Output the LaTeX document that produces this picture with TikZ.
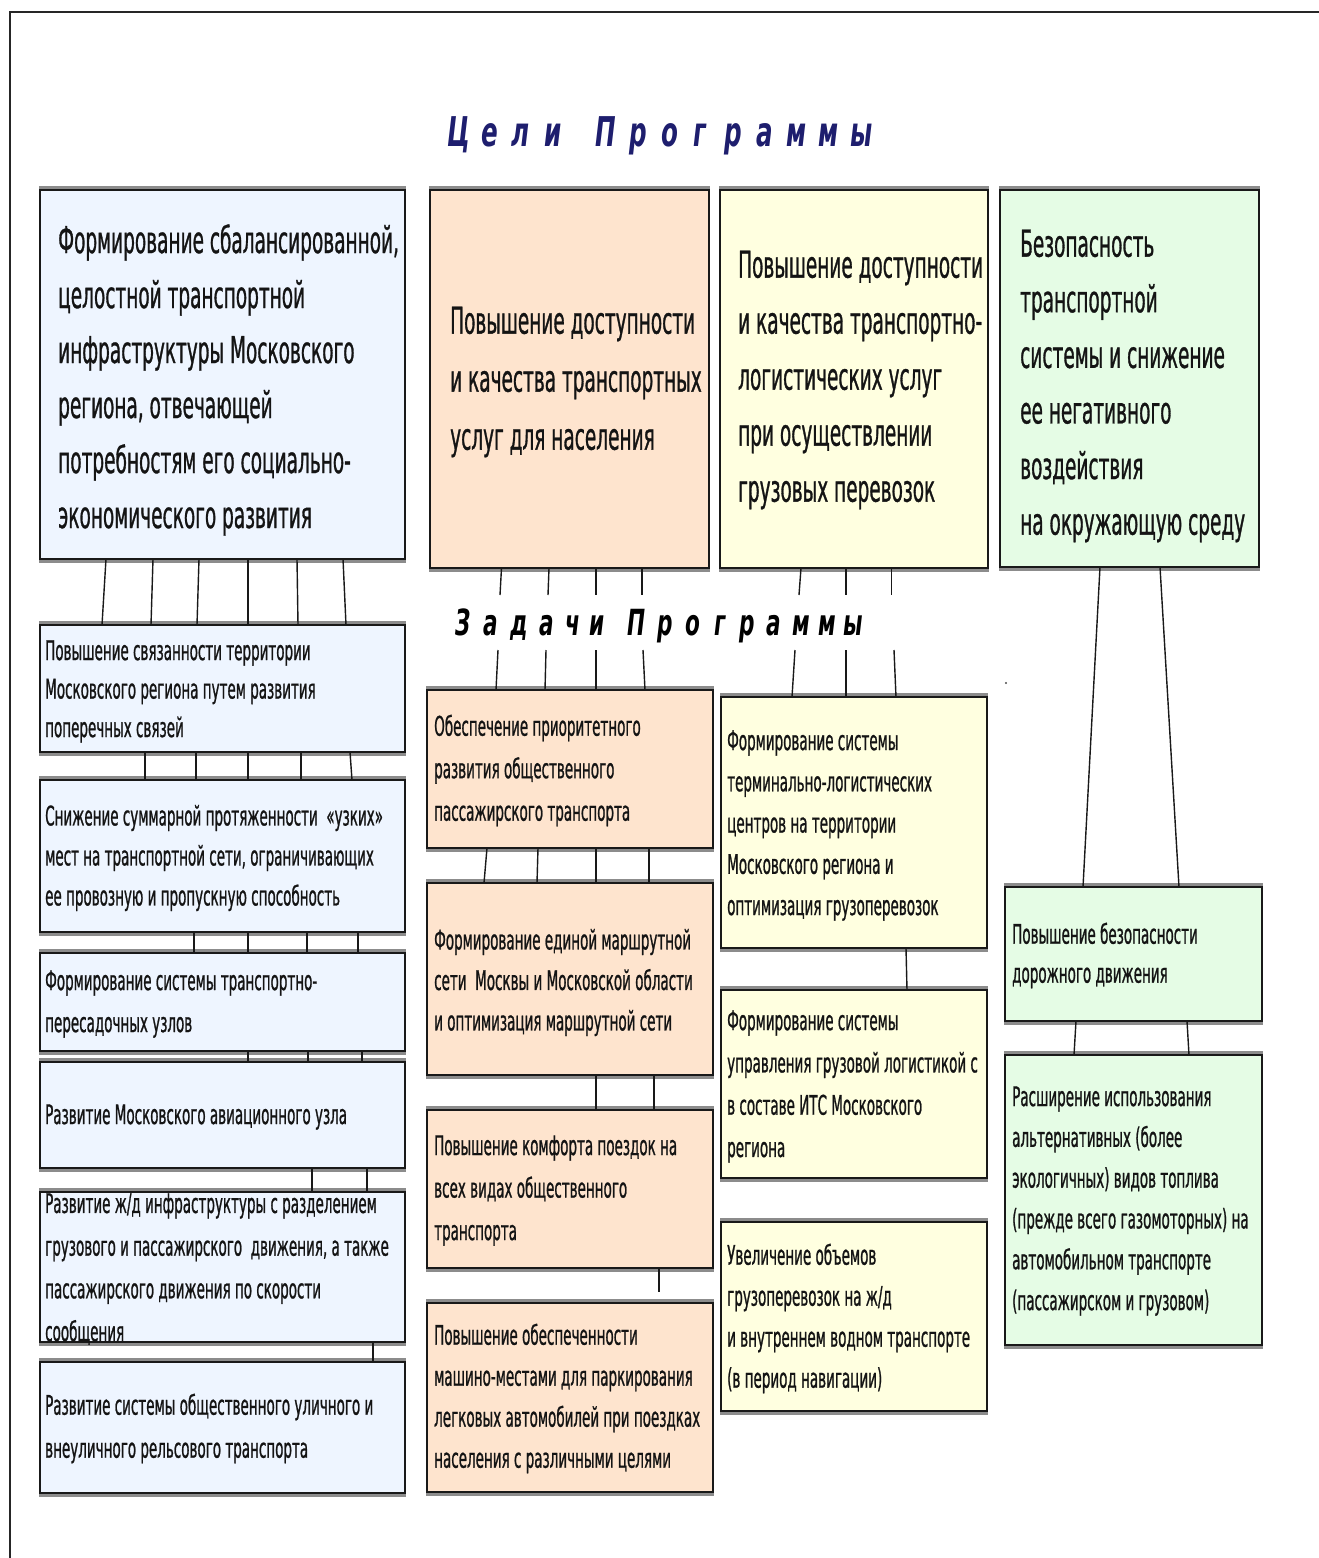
\documentclass[tikz,border=0pt]{standalone}
\usepackage{fontspec}
\setmainfont[FakeStretch=0.5,FakeBold=0.8]{DejaVu Sans}
\newfontfamily\ttlfont[FakeStretch=0.6]{DejaVu Sans}
\definecolor{cblue}{RGB}{238,245,255}
\definecolor{cpeach}{RGB}{254,228,206}
\definecolor{cyell}{RGB}{255,255,224}
\definecolor{cgreen}{RGB}{229,252,229}
\definecolor{cnavy}{RGB}{30,30,110}
\definecolor{ctxt}{RGB}{20,20,20}
\newcommand\bx[6]{%
  \fill[shd] (#3-1,#4-4) rectangle (#5+1,#6+4);
  \node[#2, anchor=north west, minimum width=#5-#3, minimum height=#6-#4] (#1) at (#3,#4) {};
}
\begin{document}
\begin{tikzpicture}[x=1pt,y=-1pt,
  shd/.style={black!45},
  boxbase/.style={draw=black!90, line width=1.6pt, rectangle, inner sep=0pt, outer sep=0pt},
  bluebox/.style={boxbase, fill=cblue},
  peachbox/.style={boxbase, fill=cpeach},
  yellbox/.style={boxbase, fill=cyell},
  greenbox/.style={boxbase, fill=cgreen},
  bigtxt/.style={font=\fontsize{37}{#1}\selectfont, align=left, anchor=west, inner sep=0pt, text=ctxt},
  smtxt/.style={font=\fontsize{27}{#1}\selectfont, align=left, anchor=west, inner sep=0pt, text=ctxt},
  ttl/.style={font=\ttlfont\bfseries\itshape\fontsize{41}{41}\selectfont, inner sep=0pt, text=cnavy},
  ttlb/.style={font=\ttlfont\bfseries\itshape\fontsize{36}{36}\selectfont, inner sep=0pt, text=black},
  conn/.style={draw=black!90, line width=1.4pt}
]
\useasboundingbox (0,0) rectangle (1318,1558);
% outer frame
\draw[line width=2pt, black!85] (10,1560) -- (10,12) -- (1320,12);

% titles
\foreach \ch/\xx [count=\i] in {Ц/459,е/490,л/521,и/553,П/606,р/638,о/670,г/700,р/733,а/765,м/797,м/829,ы/862}
  \node[ttl, anchor=base] (tc\i) at (\xx,146) {\ch};
\foreach \ch/\xx [count=\i] in {З/463,а/491,д/519,а/547,ч/573,и/597,П/637,р/665,о/693,г/720,р/747,а/774,м/801,м/827,ы/853}
  \node[ttlb, anchor=base] (tz\i) at (\xx,635) {\ch};

% goal boxes
\bx{g1}{bluebox}{40}{190}{405}{559}
\bx{g2}{peachbox}{430}{190}{709}{568}
\bx{g3}{yellbox}{720}{190}{988}{568}
\bx{g4}{greenbox}{1000}{190}{1259}{567}

% left column tasks
\bx{t1}{bluebox}{40}{625}{405}{752}
\bx{t2}{bluebox}{40}{780}{405}{932}
\bx{t3}{bluebox}{40}{953}{405}{1051}
\bx{t4}{bluebox}{40}{1062}{405}{1168}
\bx{t5}{bluebox}{40}{1192}{405}{1342}
\bx{t6}{bluebox}{40}{1362}{405}{1493}

% middle column tasks
\bx{m1}{peachbox}{427}{690}{713}{848}
\bx{m2}{peachbox}{427}{883}{713}{1075}
\bx{m3}{peachbox}{427}{1110}{713}{1268}
\bx{m4}{peachbox}{427}{1303}{713}{1492}

% right-middle column tasks
\bx{r1}{yellbox}{721}{697}{987}{948}
\bx{r2}{yellbox}{721}{990}{987}{1178}
\bx{r3}{yellbox}{721}{1222}{987}{1411}

% right column tasks
\bx{s1}{greenbox}{1005}{887}{1262}{1021}
\bx{s2}{greenbox}{1005}{1055}{1262}{1345}

% texts
\node[bigtxt=55] (g1t) at (58,380) {Формирование сбалансированной,\\целостной транспортной\\инфраструктуры Московского\\региона, отвечающей\\потребностям его социально-\\экономического развития};
\node[bigtxt=58] (g2t) at (450,382) {Повышение доступности\\и качества транспортных\\услуг для населения};
\node[bigtxt=56] (g3t) at (738,380) {Повышение доступности\\и качества транспортно-\\логистических услуг\\при осуществлении\\грузовых перевозок};
\node[bigtxt=55.6] (g4t) at (1020,386) {Безопасность\\транспортной\\системы и снижение\\ее негативного\\воздействия\\на окружающую среду};

\node[smtxt=38.5] (t1t) at (45,691.5) {Повышение связанности территории\\Московского региона путем развития\\поперечных связей};
\node[smtxt=40] (t2t) at (45,858) {Снижение суммарной протяженности\ \ «узких»\\мест на транспортной сети, ограничивающих\\ее провозную и пропускную способность};
\node[smtxt=42] (t3t) at (45,1004) {Формирование системы транспортно-\\пересадочных узлов};
\node[smtxt=42] (t4t) at (45,1117) {Развитие Московского авиационного узла};
\node[smtxt=42.7] (t5t) at (45,1269) {Развитие ж/д инфраструктуры с разделением\\грузового и пассажирского\ \ движения, а также\\пассажирского движения по скорости\\сообщения};
\node[smtxt=43] (t6t) at (45,1428.5) {Развитие системы общественного уличного и\\внеуличного рельсового транспорта};

\node[smtxt=42.5] (m1t) at (434,770.5) {Обеспечение приоритетного\\развития общественного\\пассажирского транспорта};
\node[smtxt=40.5] (m2t) at (434,982.5) {Формирование единой маршрутной\\сети\ \ Москвы и Московской области\\и оптимизация маршрутной сети};
\node[smtxt=42.5] (m3t) at (434,1190.5) {Повышение комфорта поездок на\\всех видах общественного\\транспорта};
\node[smtxt=41] (m4t) at (434,1398.5) {Повышение обеспеченности\\машино-местами для паркирования\\легковых автомобилей при поездках\\населения с различными целями};

\node[smtxt=41.25] (r1t) at (727,825.5) {Формирование системы\\терминально-логистических\\центров на территории\\Московского региона и\\оптимизация грузоперевозок};
\node[smtxt=42.3] (r2t) at (727,1086.5) {Формирование системы\\управления грузовой логистикой с\\в составе ИТС Московского\\региона};
\node[smtxt=41] (r3t) at (727,1318.5) {Увеличение объемов\\грузоперевозок на ж/д\\и внутреннем водном транспорте\\(в период навигации)};

\node[smtxt=39] (s1t) at (1012,955.5) {Повышение безопасности\\дорожного движения};
\node[smtxt=40.8] (s2t) at (1012,1201) {Расширение использования\\альтернативных (более\\экологичных) видов топлива\\(прежде всего газомоторных) на\\автомобильном транспорте\\(пассажирском и грузовом)};

% connectors: goal 1 -> task chain
\foreach \a/\b in {66/62,113/111,159/157,208/208,257/258,303/306}
  \draw[conn] ([xshift=\a]g1.south west) -- ([xshift=\b]t1.north west);
\foreach \a/\b in {105/105,156/156,208/208,261/261,310/312}
  \draw[conn] ([xshift=\a]t1.south west) -- ([xshift=\b]t2.north west);
\foreach \a in {154,208,267,318}
  \draw[conn] ([xshift=\a]t2.south west) -- ([xshift=\a]t3.north west);
\foreach \a in {208,268,322}
  \draw[conn] ([xshift=\a]t3.south west) -- ([xshift=\a]t4.north west);
\foreach \a in {272,327}
  \draw[conn] ([xshift=\a]t4.south west) -- ([xshift=\a]t5.north west);
\draw[conn] ([xshift=333]t5.south west) -- ([xshift=333]t6.north west);

% goal 2 stubs and middle chain
\foreach \a/\d in {71.5/-1.5,119/-1,166/0,212/0}
  \draw[conn] ([xshift=\a]g2.south west) -- ++(\d,27);
\foreach \a/\d in {69/2,118/1,169/0,218/-2}
  \draw[conn] ([xshift=\a]m1.north west) -- ++(\d,-40);
\foreach \a/\b in {60/57,111/110,169/169,222/222}
  \draw[conn] ([xshift=\a]m1.south west) -- ([xshift=\b]m2.north west);
\foreach \a in {169,227}
  \draw[conn] ([xshift=\a]m2.south west) -- ([xshift=\a]m3.north west);
\draw[conn] ([xshift=232]m3.south west) -- ++(0,24);

% goal 3 stubs and right-middle chain
\foreach \a/\d in {81/-2,126/0,171.5/0}
  \draw[conn] ([xshift=\a]g3.south west) -- ++(\d,27);
\foreach \a/\d in {71/3,125/0,175/-2}
  \draw[conn] ([xshift=\a]r1.north west) -- ++(\d,-47);
\draw[conn] ([xshift=185]r1.south west) -- ([xshift=186]r2.north west);

% goal 4 chain
\draw[conn] ([xshift=100]g4.south west) -- ([xshift=78]s1.north west);
\draw[conn] ([xshift=160]g4.south west) -- ([xshift=174]s1.north west);
\draw[conn] ([xshift=71]s1.south west) -- ([xshift=69]s2.north west);
\draw[conn] ([xshift=182]s1.south west) -- ([xshift=184]s2.north west);

% stray dot
\fill[black!70] (1006,683) circle (1.2);
\end{tikzpicture}
\end{document}
